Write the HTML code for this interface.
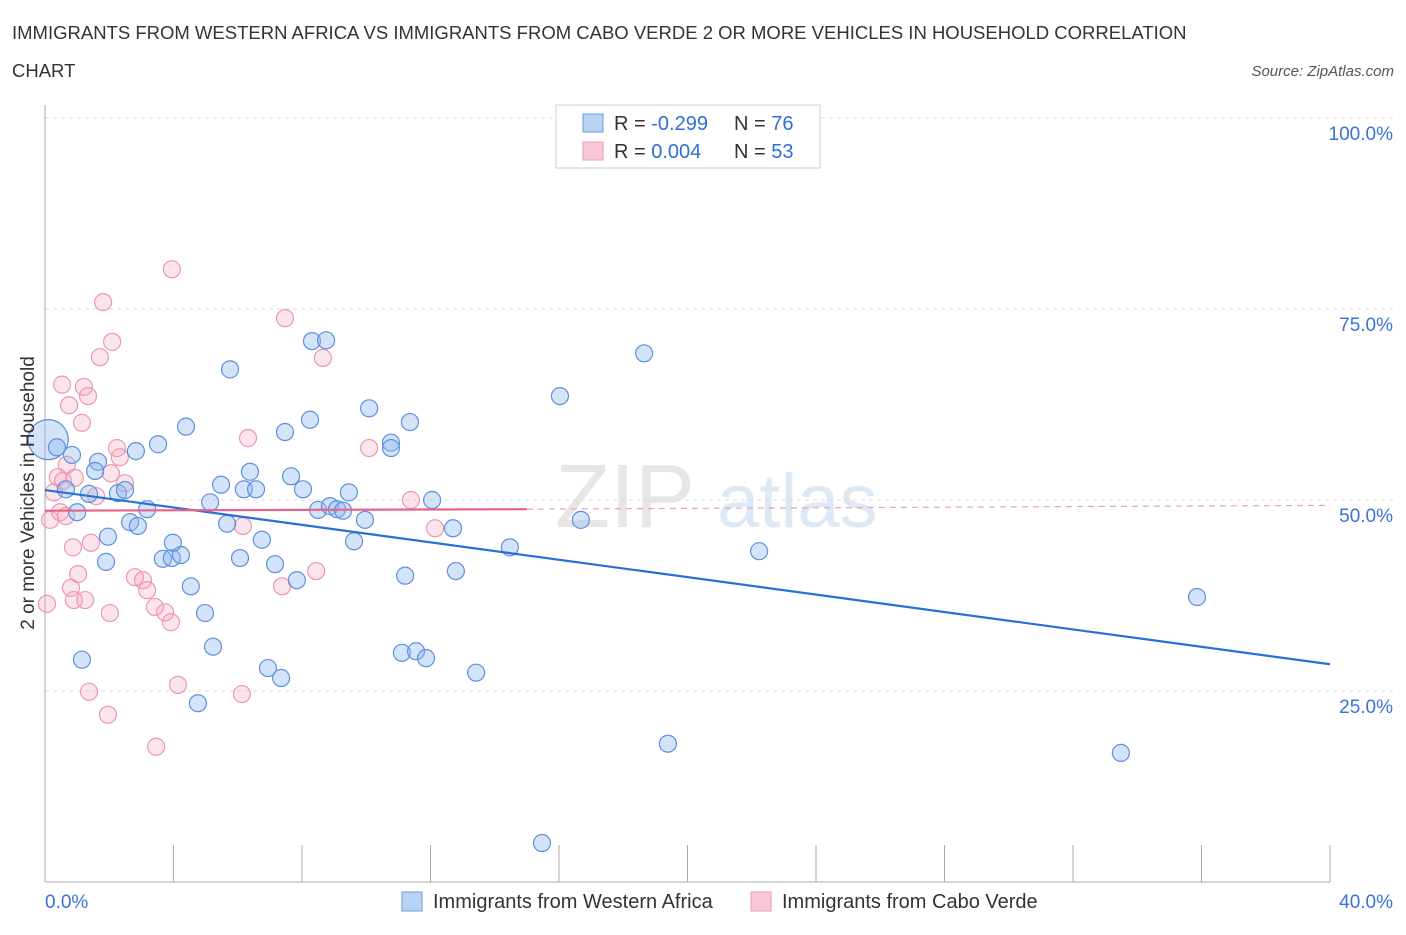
<!DOCTYPE html>
<html><head><meta charset="utf-8"><style>
body{margin:0;background:#fff;font-family:"Liberation Sans",sans-serif;}
svg text{font-family:"Liberation Sans",sans-serif;}
</style></head><body>
<svg id="chart" width="1406" height="930" xmlns="http://www.w3.org/2000/svg">
<text x="12" y="39" font-size="18.5" fill="#333">IMMIGRANTS FROM WESTERN AFRICA VS IMMIGRANTS FROM CABO VERDE 2 OR MORE VEHICLES IN HOUSEHOLD CORRELATION</text>
<text x="12" y="77" font-size="18.5" fill="#333">CHART</text>
<text x="1394" y="76" font-size="15" fill="#555" font-style="italic" text-anchor="end">Source: ZipAtlas.com</text>
<text x="555" y="527" font-size="90" fill="#e6e6e6" font-family="Liberation Serif">ZIP</text>
<text x="717" y="527" font-size="76" fill="#dde8f5">atlas</text>
<g id="grid"></g>
<g id="axes"></g>
<g id="marks"></g>
<text transform="translate(34,493) rotate(-90)" font-size="19" fill="#333" text-anchor="middle">2 or more Vehicles in Household</text>
<g>
<rect x="556" y="105" width="264" height="63" fill="#fff" stroke="#ccc"/>
<rect x="583" y="114" width="20" height="18" fill="#b9d3f5" stroke="#6d9be0"/>
<rect x="583" y="142" width="20" height="18" fill="#f9c8d6" stroke="#eb9ab2"/>
<text x="614" y="130" font-size="20" fill="#333">R = <tspan fill="#2f6fd6">-0.299</tspan></text>
<text x="734" y="130" font-size="20" fill="#333">N = <tspan fill="#2f6fd6">76</tspan></text>
<text x="614" y="158" font-size="20" fill="#333">R = <tspan fill="#2f6fd6"> 0.004</tspan></text>
<text x="734" y="158" font-size="20" fill="#333">N = <tspan fill="#2f6fd6">53</tspan></text>
</g>
<g>
<rect x="402" y="892" width="20" height="19" fill="#b9d3f5" stroke="#6d9be0"/>
<text x="433" y="908" font-size="20" fill="#333">Immigrants from Western Africa</text>
<rect x="751" y="892" width="20" height="19" fill="#f9c8d6" stroke="#eb9ab2"/>
<text x="782" y="908" font-size="20" fill="#333">Immigrants from Cabo Verde</text>
</g>
</svg>
<script>
const yTicks=[25,50,75,100];
const yTickLabels=["25.0%","50.0%","75.0%","100.0%"];
const xTickLabels=["0.0%","40.0%"];
const blueX=[0.1,0.37,0.84,1.65,1.56,0.65,1.0,1.37,2.27,2.49,2.65,1.96,2.89,3.18,3.52,4.39,2.83,1.9,1.15,3.67,3.95,4.23,3.98,4.54,4.98,5.23,4.76,5.14,5.48,5.67,5.76,6.07,6.19,6.38,6.57,6.75,7.16,6.94,7.35,7.47,7.66,7.84,8.03,8.31,8.75,8.25,8.5,8.87,9.09,9.28,9.46,9.62,9.96,10.09,10.77,10.77,11.36,11.21,11.11,11.55,11.86,12.05,12.7,12.79,13.42,14.47,15.47,16.03,16.68,18.65,19.39,22.23,35.86,33.49];
const blueY=[57.9,56.9,55.9,55.0,53.8,51.4,48.4,50.8,50.9,51.3,47.1,45.2,46.6,48.8,57.3,59.6,56.4,41.9,29.1,42.3,42.4,42.8,44.4,38.7,35.2,30.8,23.4,49.7,52.0,46.9,67.1,42.4,51.4,53.7,51.4,44.8,41.6,28.0,26.7,58.9,53.1,39.5,51.4,70.8,70.9,60.5,48.7,49.2,48.8,48.6,51.0,44.6,47.4,62.0,57.5,56.8,60.2,40.1,30.0,30.2,29.3,50.0,46.3,40.7,27.4,43.8,5.1,63.6,47.4,69.2,18.1,43.3,37.3,16.9];
const pinkX=[0.06,0.16,0.28,0.4,0.56,0.68,0.53,0.75,0.47,0.65,0.93,1.21,1.34,1.15,1.03,0.87,0.81,0.9,1.25,1.43,1.59,1.71,1.81,2.05,2.09,2.24,2.33,2.49,2.02,1.37,1.96,2.8,3.05,3.18,3.42,3.74,3.92,3.46,3.95,4.14,6.32,6.16,6.13,7.38,7.47,8.44,8.65,10.09,11.39,12.14];
const pinkY=[36.4,47.4,51.0,53.0,52.5,54.6,65.1,62.4,48.4,47.9,52.9,64.8,63.6,60.1,40.3,43.8,38.5,36.9,36.9,44.4,50.5,68.7,75.9,53.5,70.7,56.8,55.6,52.2,35.2,24.9,21.9,39.9,39.5,38.2,36.0,35.3,34.0,17.7,80.2,25.8,58.1,46.6,24.6,38.7,73.8,40.7,68.6,56.8,50.0,46.3];
const blueTrend=[51.3,28.5];
const pinkTrend=[48.6,48.8,49.3];
const pinkTrendSolidEnd=15;
const NS="http://www.w3.org/2000/svg";
const X0=45,X1=1330,Y0=882,Y100=118;
const sx=v=>X0+(X1-X0)*v/40;
const sy=v=>Y0-(Y0-Y100)*v/100;
function mk(tag,attrs,parent){const e=document.createElementNS(NS,tag);for(const k in attrs)e.setAttribute(k,attrs[k]);parent.appendChild(e);return e;}
const grid=document.getElementById('grid'),axes=document.getElementById('axes'),marks=document.getElementById('marks');
yTicks.forEach((t,i)=>{
 const l=mk('line',{x1:X0,x2:1395,y1:sy(t),y2:sy(t),stroke:'#ddd','stroke-dasharray':'4,4'},grid);
 
 
 const tx=mk('text',{x:1393,y:sy(t)+22,'font-size':19,fill:'#3a72d8','text-anchor':'end'},axes);
 tx.textContent=yTickLabels[i];
 
 
});
const ya=mk('line',{x1:X0,x2:X0,y1:105,y2:Y0,stroke:'#aaa'},axes);


const xa=mk('line',{x1:X0,x2:X1,y1:Y0,y2:Y0,stroke:'#aaa'},axes);


for(let i=0;i<=10;i++){
 const t=mk('line',{x1:sx(i*4),x2:sx(i*4),y1:845,y2:Y0,stroke:'#aaa'},axes);
 
 
}
[[0,'start',45],[1,'end',1393]].forEach(([i,a,x])=>{
 const tx=mk('text',{x:x,y:908,'font-size':19,fill:'#3a72d8','text-anchor':a},axes);
 tx.textContent=xTickLabels[i];
 
 
});
pinkX.forEach((x,i)=>{
 const c=mk('circle',{cx:sx(x),cy:sy(pinkY[i]),r:8.5,fill:'rgba(245,165,192,0.3)',stroke:'#eb98b2','stroke-width':1.2},marks);
 
 
});
blueX.forEach((x,i)=>{
 const c=mk('circle',{cx:sx(x),cy:sy(blueY[i]),r:i===0?20:8.5,fill:'rgba(145,185,240,0.4)',stroke:'#5e90dc','stroke-width':1.2},marks);
 
 
});
const bt=mk('line',{x1:sx(0),y1:sy(blueTrend[0]),x2:sx(40),y2:sy(blueTrend[1]),stroke:'#2a6fd6','stroke-width':2.2},marks);


const pt=mk('line',{x1:sx(0),y1:sy(pinkTrend[0]),x2:sx(pinkTrendSolidEnd),y2:sy(pinkTrend[1]),stroke:'#e8638c','stroke-width':2.2},marks);


const pd=mk('line',{x1:sx(pinkTrendSolidEnd),y1:sy(pinkTrend[1]),x2:sx(40),y2:sy(pinkTrend[2]),stroke:'#e8a0b6','stroke-width':1.2,'stroke-dasharray':'6,5'},marks);


</script>
</body></html>
